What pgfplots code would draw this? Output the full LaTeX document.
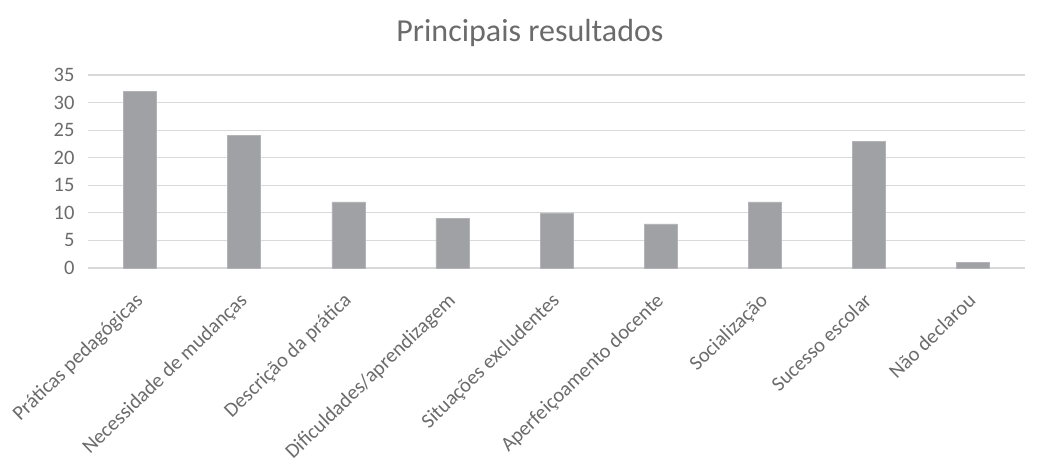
\documentclass[border=0pt]{standalone}
\usepackage{pgfplots}
\pgfplotsset{compat=1.18}
\usepackage{fontspec}
\setmainfont{Carlito}
\definecolor{bargray}{HTML}{A0A1A5}
\definecolor{gridgray}{HTML}{D9D9D9}
\definecolor{txtgray}{HTML}{6B6B6B}
\begin{document}
\begin{tikzpicture}
\path[use as bounding box] (-88pt,-197pt) rectangle (962pt,268pt);
\begin{axis}[
  scale only axis,
  width=937pt, height=193pt,
  xmin=-0.5, xmax=8.5,
  ymin=0, ymax=35,
  ytick={0,5,...,35},
  xtick=data,
  xticklabels={Práticas pedagógicas,Necessidade de mudanças,Descrição da prática,Dificuldades/aprendizagem,Situações excludentes,Aperfeiçoamento docente,Socialização,Sucesso escolar,Não declarou},
  xticklabel style={rotate=44, anchor=base east, font=\fontsize{20.5}{22}\selectfont, text=txtgray, inner sep=0pt, xshift=-20.7pt, yshift=-27.3pt},
  yticklabel style={font=\fontsize{20.5}{22}\selectfont, text=txtgray, xshift=-10pt},
  /pgf/number format/assume math mode=true,
  axis x line*=bottom,
  axis y line*=left,
  y axis line style={draw=none},
  x axis line style={gridgray, line width=1.2pt},
  ymajorgrids,
  grid style={gridgray, line width=1.2pt},
  major tick length=0pt,
  ybar,
  bar width=33pt,
  clip=false,
]
\addplot[fill=bargray, draw=bargray!80!white] coordinates {
(0,32) (1,24) (2,12) (3,9) (4,10) (5,8) (6,12) (7,23) (8,1)};
\end{axis}
\node[text=txtgray, font=\fontsize{32}{36}\selectfont] at (442pt,235pt) {Principais resultados};
\end{tikzpicture}
\end{document}
